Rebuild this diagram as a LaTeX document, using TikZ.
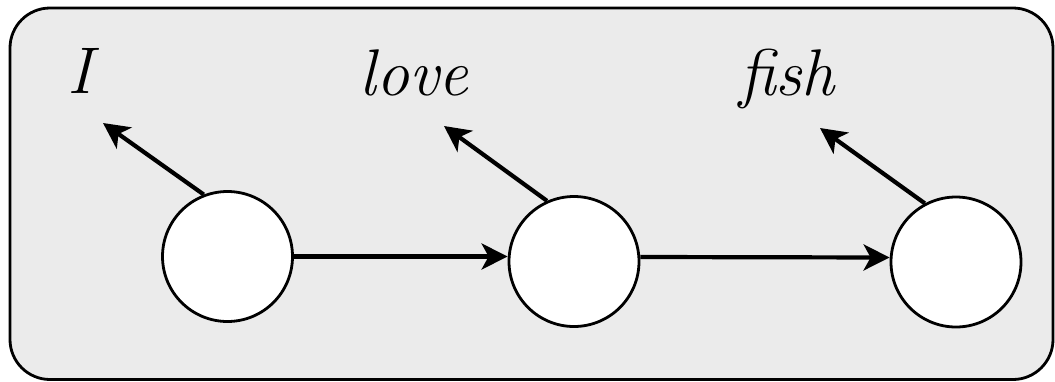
\documentclass[tikz,border=0pt]{standalone}
\usepackage{fontspec}
\usetikzlibrary{arrows.meta,calc}
\definecolor{panelgray}{HTML}{EBEBEB}
\tikzset{
  unit/.style={circle,draw=black,fill=white,line width=2.8pt,minimum size=130pt,inner sep=0pt},
  link/.style={line width=4.2pt,-{Stealth[length=26pt,width=26pt,inset=7pt]}},
  word/.style={font=\fontsize{66}{68}\selectfont\itshape,anchor=base,inner sep=0pt}
}
\begin{document}
\begin{tikzpicture}[x=1pt,y=-1pt]
\useasboundingbox (0,0) rectangle (1055,381);
\draw[fill=panelgray,line width=2.8pt,rounded corners=40pt] (10,8) rectangle (1053,379.5);
\node[unit] (c1) at (227.5,256.5) {};
\node[unit] (c2) at (574,261.5) {};
\node[unit] (c3) at (956,262) {};
\node[word] (w1) at (80,93) {I};
\node[word] (w2) at (414,95) {love};
\node[word] (w3) at (787,95) {fish};
\coordinate (t1) at (103,123);
\coordinate (t2) at (444,126);
\coordinate (t3) at (820,128);
\draw[link] (c1.111) -- (t1);
\draw[link] (c2.114) -- (t2);
\draw[link] (c3.118) -- (t3);
\draw[link] (c1.east) -- (c1.east -| c2.west);
\draw[link] ($(c2.east)+(0,-4.5)$) -- ($(c3.west)+(0,-4.5)$);
\end{tikzpicture}
\end{document}
